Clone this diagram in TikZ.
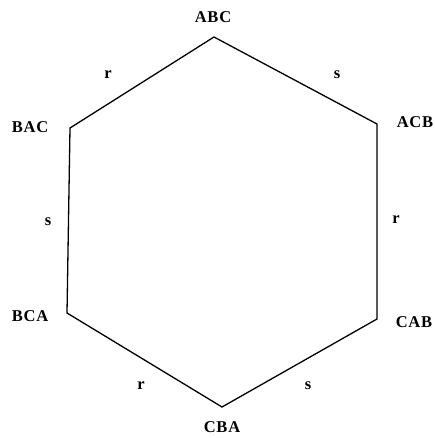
\documentclass[tikz,border=0pt]{standalone}
\usepackage{fontspec}
\setmainfont{Liberation Serif}[LetterSpace=5]
\begin{document}
\begin{tikzpicture}[x=1pt,y=-1pt,
  vlab/.style={font=\fontsize{16.5}{18}\selectfont\bfseries, inner sep=0pt},
  elab/.style={font=\fontsize{16.5}{18}\selectfont\bfseries, inner sep=0pt},
  edge/.style={line width=1.3pt, line join=miter}]
\useasboundingbox (0,0) rectangle (435,438);
\coordinate (ABC) at (214,37);
\coordinate (ACB) at (377,124);
\coordinate (CAB) at (377,319);
\coordinate (CBA) at (222,407);
\coordinate (BCA) at (67,313);
\coordinate (BAC) at (70,128);
\draw[edge] (ABC) -- (ACB) -- (CAB) -- (CBA) -- (BCA) -- (BAC) -- cycle;
\node[vlab] (lABC) at (213,17) {ABC};
\node[vlab] (lACB) at (415,122) {ACB};
\node[vlab] (lCAB) at (414,322) {CAB};
\node[vlab] (lCBA) at (222,427) {CBA};
\node[vlab] (lBCA) at (30,316) {BCA};
\node[vlab] (lBAC) at (30,127) {BAC};
\node[elab] (e1) at (108,75) {r};
\node[elab] (e2) at (337,75) {s};
\node[elab] (e3) at (396,220) {r};
\node[elab] (e4) at (308,386) {s};
\node[elab] (e5) at (141,386) {r};
\node[elab] (e6) at (48,222) {s};
\end{tikzpicture}
\end{document}
